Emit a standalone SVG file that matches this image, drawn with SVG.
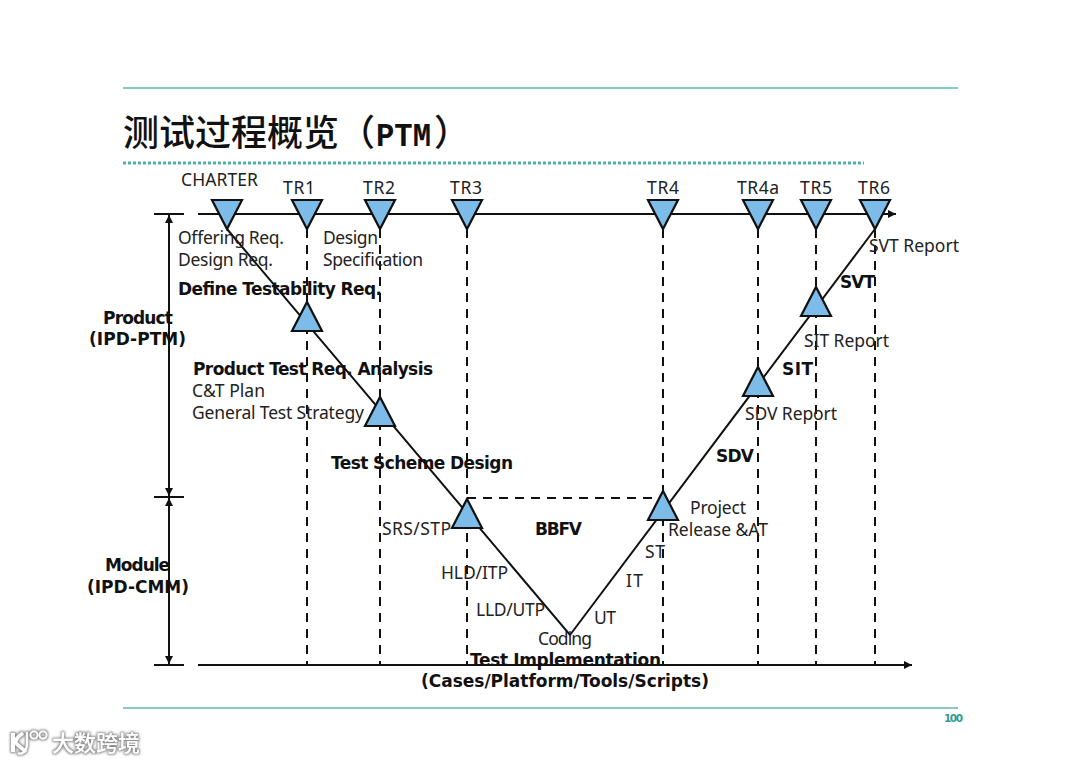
<svg xmlns="http://www.w3.org/2000/svg" width="1080" height="763" viewBox="0 0 1080 763">
<style>
.t{font-family:"Noto Sans","DejaVu Sans",sans-serif;font-size:17.5px;fill:#222;transform:translateY(.7px)}
.b{font-family:"DejaVu Sans","Liberation Sans",sans-serif;font-size:17px;font-weight:700;fill:#111}
.ln{stroke:#111;stroke-width:2;fill:none}
.d{stroke:#111;stroke-width:2;fill:none;stroke-dasharray:9 7}
.tri{fill:#7dbce8;stroke:#111;stroke-width:2.2;stroke-linejoin:miter}
.teal{stroke:#5cb8b2;stroke-width:1.5;fill:none}
</style>
<defs>
<marker id="a" markerUnits="userSpaceOnUse" markerWidth="10" markerHeight="10" refX="8" refY="4" orient="auto-start-reverse"><path d="M0 0L8 4L0 8Z" fill="#111"/></marker>
<polygon id="dn" class="tri" points="-15,0 15,0 0,29"/>
<polygon id="up" class="tri" points="-15,29 15,29 0,0"/>
<filter id="sh" x="-10%" y="-20%" width="120%" height="140%"><feMorphology in="SourceAlpha" operator="dilate" radius="0.8" result="m"/><feGaussianBlur in="m" stdDeviation="0.8" result="g"/><feFlood flood-color="#8c8c8c"/><feComposite in2="g" operator="in"/><feMerge><feMergeNode/><feMergeNode in="SourceGraphic"/></feMerge></filter>
</defs>
<rect width="1080" height="763" fill="#fff"/>
<g id="frame">
<line class="teal" x1="123" y1="88" x2="958" y2="88"/>
<line class="teal" x1="123" y1="708" x2="958" y2="708"/>
<line x1="123" y1="163" x2="864" y2="163" stroke="#4fb0aa" stroke-width="3" stroke-dasharray="3 2"/>
<text x="123" y="146" font-family="'Noto Sans CJK SC','DejaVu Sans',sans-serif" font-size="36" font-weight="500" fill="#111">测试过程概览（<tspan x="376" y="146" font-family="'Liberation Mono',monospace" font-size="33" font-weight="700" textLength="55" lengthAdjust="spacingAndGlyphs">PTM</tspan><tspan x="434" y="146">）</tspan></text>
<text x="944" y="722" textLength="19" font-family="'DejaVu Sans',sans-serif" font-size="10.5" font-weight="700" fill="#2f9c96">100</text>
</g>
<g id="connectors">
<line class="ln" x1="198" y1="214" x2="896" y2="214" marker-end="url(#a)"/>
<line class="ln" x1="198" y1="665" x2="912" y2="665" marker-end="url(#a)"/>
<line class="ln" x1="154" y1="214" x2="184" y2="214"/>
<line class="ln" x1="154" y1="497" x2="184" y2="497"/>
<line class="ln" x1="154" y1="665" x2="184" y2="665"/>
<line class="ln" x1="169" y1="215" x2="169" y2="496" marker-start="url(#a)" marker-end="url(#a)"/>
<line class="ln" x1="169" y1="498" x2="169" y2="664" marker-start="url(#a)" marker-end="url(#a)"/>
<polyline class="ln" points="227,229 570,635 875,229"/>
<line class="d" x1="307" y1="229" x2="307" y2="665"/>
<line class="d" x1="380" y1="229" x2="380" y2="665"/>
<line class="d" x1="467" y1="229" x2="467" y2="665"/>
<line class="d" x1="663" y1="229" x2="663" y2="665"/>
<line class="d" x1="758" y1="229" x2="758" y2="665"/>
<line class="d" x1="816" y1="229" x2="816" y2="665"/>
<line class="d" x1="875" y1="229" x2="875" y2="665"/>
<line class="d" x1="467" y1="498" x2="663" y2="498"/>
</g>
<g id="gate-charter"><use href="#dn" x="227" y="200"/><text class="t" x="181" y="185" textLength="77">CHARTER</text></g>
<g id="gate-tr1"><use href="#dn" x="307" y="200"/><text class="t" x="283" y="193" textLength="32">TR1</text></g>
<g id="gate-tr2"><use href="#dn" x="380" y="200"/><text class="t" x="363" y="193" textLength="32">TR2</text></g>
<g id="gate-tr3"><use href="#dn" x="467" y="200"/><text class="t" x="450" y="193" textLength="32">TR3</text></g>
<g id="gate-tr4"><use href="#dn" x="663" y="200"/><text class="t" x="647" y="193" textLength="32">TR4</text></g>
<g id="gate-tr4a"><use href="#dn" x="758" y="200"/><text class="t" x="737" y="193" textLength="42">TR4a</text></g>
<g id="gate-tr5"><use href="#dn" x="816" y="200"/><text class="t" x="800" y="193" textLength="32">TR5</text></g>
<g id="gate-tr6"><use href="#dn" x="875" y="200"/><text class="t" x="858" y="193" textLength="32">TR6</text></g>
<g id="stage-testability"><use href="#up" x="307" y="302"/></g>
<g id="stage-test-req"><use href="#up" x="380" y="397"/></g>
<g id="stage-srs"><use href="#up" x="467" y="499"/></g>
<g id="stage-st"><use href="#up" x="663" y="491"/></g>
<g id="stage-sdv"><use href="#up" x="758" y="367"/></g>
<g id="stage-sit"><use href="#up" x="816" y="287"/></g>
<g id="labels">
<text class="t" x="178" y="243" textLength="106">Offering Req.</text>
<text class="t" x="178" y="265" textLength="95">Design Req.</text>
<text class="t" x="323" y="243" textLength="55">Design</text>
<text class="t" x="323" y="265" textLength="100">Specification</text>
<text class="b" x="178" y="295" textLength="204">Define Testability Req.</text>
<text class="b" x="103" y="324" textLength="70">Product</text>
<text class="b" x="89" y="345" textLength="97">(IPD-PTM)</text>
<text class="b" x="193" y="375" textLength="240">Product Test Req. Analysis</text>
<text class="t" x="192" y="396" textLength="73">C&amp;T Plan</text>
<text class="t" x="192" y="418" textLength="172">General Test Strategy</text>
<text class="b" x="331" y="469" textLength="182">Test Scheme Design</text>
<text class="t" x="382" y="534" textLength="69">SRS/STP</text>
<text class="b" x="535" y="535" textLength="47">BBFV</text>
<text class="b" x="105" y="571" textLength="65">Module</text>
<text class="b" x="87" y="593" textLength="102">(IPD-CMM)</text>
<text class="t" x="441" y="578" textLength="67">HLD/ITP</text>
<text class="t" x="476" y="615" textLength="69">LLD/UTP</text>
<text class="t" x="538" y="644" textLength="54">Coding</text>
<text class="b" x="470" y="666" textLength="191">Test Implementation</text>
<text class="b" x="421" y="687" textLength="288">(Cases/Platform/Tools/Scripts)</text>
<text class="t" x="594" y="623" textLength="22">UT</text>
<text class="t" x="626" y="586" textLength="17">IT</text>
<text class="t" x="645" y="557" textLength="20">ST</text>
<text class="t" x="690" y="513" textLength="56">Project</text>
<text class="t" x="668" y="535" textLength="100">Release &amp;AT</text>
<text class="b" x="716" y="462" textLength="38">SDV</text>
<text class="t" x="745" y="419" textLength="92">SDV Report</text>
<text class="b" x="782" y="375" textLength="31">SIT</text>
<text class="t" x="804" y="346" textLength="85">SIT Report</text>
<text class="b" x="840" y="288" textLength="35">SVT</text>
<text class="t" x="869" y="251" textLength="90">SVT Report</text>
</g>
<g id="watermark" filter="url(#sh)">
<g fill="none" stroke="#fff">
<path d="M13 733V752" stroke-width="4"/>
<path d="M23 733C17 737 15 741 16 743C18 746 22 748 26 752" stroke-width="3.5"/>
<path d="M27 732V743C27 752 21 755 18 753" stroke-width="2.2"/>
<circle cx="34" cy="735" r="3.6" stroke-width="1.8"/>
<circle cx="43" cy="735" r="3.6" stroke-width="1.8"/>
</g>
<text x="52" y="751" font-family="'Noto Sans CJK SC',sans-serif" font-size="22" font-weight="500" fill="#fff">大数跨境</text>
</g>
</svg>
